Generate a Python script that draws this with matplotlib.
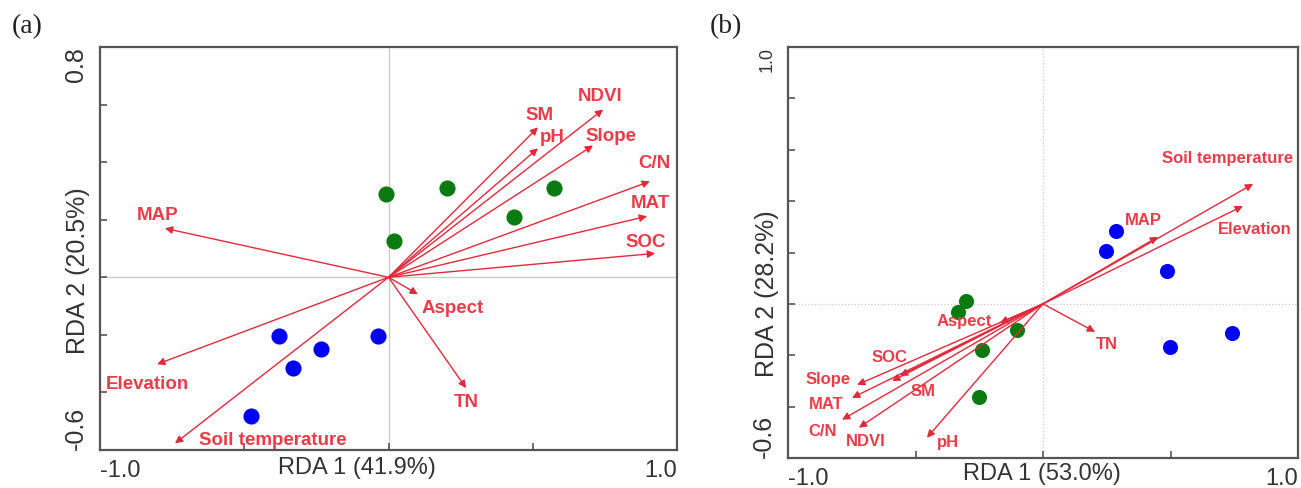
import matplotlib
matplotlib.use('Agg')
import matplotlib.pyplot as plt

plt.rcParams['font.family'] = ['Liberation Sans', 'DejaVu Sans']

# ---------------- Panel (a) data ----------------
a_vars = ['MAP', 'SM', 'pH', 'NDVI', 'Slope', 'C/N', 'MAT', 'SOC',
          'Aspect', 'TN', 'Elevation', 'Soil temperature']
a_arrow_x = [-0.775, 0.518, 0.518, 0.744, 0.709, 0.906, 0.896, 0.924,
             0.102, 0.269, -0.802, -0.740]
a_arrow_y = [0.170, 0.521, 0.448, 0.583, 0.458, 0.333, 0.212, 0.083,
             -0.059, -0.385, -0.302, -0.577]
a_label_x = [-0.802, 0.522, 0.567, 0.733, 0.771, 0.920, 0.906, 0.893,
             0.224, 0.269, -0.837, -0.400]
a_label_y = [0.215, 0.563, 0.486, 0.629, 0.490, 0.396, 0.257, 0.122,
             -0.108, -0.434, -0.372, -0.566]
a_green_x = [-0.009, 0.203, 0.574, 0.435, 0.019]
a_green_y = [0.288, 0.309, 0.309, 0.208, 0.125]
a_blue_x = [-0.380, -0.234, -0.331, -0.477, -0.036]
a_blue_y = [-0.205, -0.250, -0.316, -0.483, -0.205]
a_xlabel = 'RDA 1 (41.9%)'
a_ylabel = 'RDA 2 (20.5%)'
a_xticks = [-1.0, -0.5, 0.0, 0.5, 1.0]
a_xticklabels = ['-1.0', '', '', '', '1.0']
a_yticks = [-0.6, -0.4, -0.2, 0.0, 0.2, 0.4, 0.6, 0.8]
a_yticklabels = ['-0.6', '', '', '', '', '', '', '0.8']

# ---------------- Panel (b) data ----------------
b_vars = ['Soil temperature', 'Elevation', 'MAP', 'TN', 'Aspect', 'SOC',
          'SM', 'Slope', 'MAT', 'C/N', 'NDVI', 'pH']
b_arrow_x = [0.824, 0.784, 0.451, 0.204, -0.169, -0.561, -0.592, -0.729,
             -0.749, -0.788, -0.722, -0.455]
b_arrow_y = [0.467, 0.381, 0.261, -0.109, -0.074, -0.280, -0.300, -0.315,
             -0.366, -0.451, -0.482, -0.521]
b_label_x = [0.725, 0.831, 0.392, 0.251, -0.310, -0.604, -0.471, -0.843,
             -0.851, -0.863, -0.694, -0.373]
b_label_y = [0.564, 0.288, 0.323, -0.160, -0.070, -0.210, -0.343, -0.296,
             -0.393, -0.498, -0.537, -0.541]
b_green_x = [-0.302, -0.333, -0.102, -0.239, -0.251]
b_green_y = [0.012, -0.031, -0.101, -0.179, -0.362]
b_blue_x = [0.286, 0.247, 0.486, 0.498, 0.741]
b_blue_y = [0.284, 0.206, 0.128, -0.167, -0.113]
b_xlabel = 'RDA 1 (53.0%)'
b_ylabel = 'RDA 2 (28.2%)'
b_xticks = [-1.0, -0.5, 0.0, 0.5, 1.0]
b_xticklabels = ['-1.0', '', '', '', '1.0']
b_yticks = [-0.6, -0.4, -0.2, 0.0, 0.2, 0.4, 0.6, 0.8, 1.0]
b_yticklabels = ['-0.6', '', '', '', '', '', '', '', '1.0']

ARROW_RED = '#e3283a'
TEXT_RED = '#ea3c48'
GREEN = '#0b7a10'
BLUE = '#0000f5'
SPINE = '#555555'
TICKTXT = '#333333'

W, H = 1301, 488
fig = plt.figure(figsize=(W / 100, H / 100), dpi=100)


def make_panel(rect, xlim, ylim, xticks, xtl, yticks, ytl,
               vars_, ax_x, ax_y, lx, ly, gx, gy, bx, by,
               xlabel, xlabel_pos, ylabel, ylabel_pos, lab_fs, dot_s,
               zero_ls, top_ytick_fs):
    ax = fig.add_axes(rect)
    ax.set_xlim(*xlim)
    ax.set_ylim(*ylim)
    ax.axhline(0, color='#c8c8c8', lw=0.9, ls=zero_ls, zorder=1)
    ax.axvline(0, color='#c8c8c8', lw=0.9, ls=zero_ls, zorder=1)
    for sp in ax.spines.values():
        sp.set_color(SPINE)
        sp.set_linewidth(1.6)
    ax.set_xticks(xticks)
    ax.set_xticklabels(xtl, fontsize=17, color=TICKTXT)
    ax.set_yticks(yticks)
    ax.set_yticklabels(ytl, fontsize=18, color=TICKTXT, rotation=90,
                       va='center')
    ax.tick_params(axis='both', direction='in', length=5, width=1.2,
                   color=SPINE, top=False, right=False)
    ax.tick_params(axis='x', pad=7)
    ax.tick_params(axis='y', pad=9)
    xl = ax.get_xticklabels()
    xl[0].set_ha('left')
    xl[-1].set_ha('right')
    yl = ax.get_yticklabels()
    yl[0].set_va('bottom')
    yl[-1].set_va('top')
    yl[-1].set_fontsize(top_ytick_fs)

    ax.scatter(gx, gy, s=dot_s, color=GREEN, zorder=3, linewidths=0)
    ax.scatter(bx, by, s=dot_s, color=BLUE, zorder=3, linewidths=0)
    for name, x, y, tx, ty in zip(vars_, ax_x, ax_y, lx, ly):
        ax.annotate('', xy=(x, y), xytext=(0, 0),
                    arrowprops=dict(arrowstyle='-|>', color=ARROW_RED,
                                    lw=1.0, mutation_scale=11,
                                    shrinkA=0, shrinkB=0),
                    zorder=4)
        ax.text(tx, ty, name, color=TEXT_RED, fontsize=lab_fs,
                fontweight='bold', ha='center', va='center', zorder=5)
    ax.text(xlabel_pos[0], xlabel_pos[1], xlabel, transform=ax.transAxes,
            fontsize=17, color=TICKTXT, ha='center', va='center')
    ax.text(ylabel_pos[0], ylabel_pos[1], ylabel, transform=ax.transAxes,
            fontsize=18, color=TICKTXT, ha='center', va='center',
            rotation=90)
    return ax


# panel (a): axes pixels x 100..677, y 47..450
make_panel([100 / W, 1 - 450 / H, 577 / W, 403 / H], (-1.0, 1.0), (-0.6, 0.8),
           a_xticks, a_xticklabels, a_yticks, a_yticklabels,
           a_vars, a_arrow_x, a_arrow_y, a_label_x, a_label_y,
           a_green_x, a_green_y, a_blue_x, a_blue_y,
           a_xlabel, ((357 - 100) / 577, (450 - 468) / 403),
           a_ylabel, ((78 - 100) / 577, (450 - 271) / 403),
           13.5, 135, '-', 18)

# panel (b): axes pixels x 788..1298, y 47..458
make_panel([788 / W, 1 - 458 / H, 510 / W, 411 / H], (-1.0, 1.0), (-0.6, 1.0),
           b_xticks, b_xticklabels, b_yticks, b_yticklabels,
           b_vars, b_arrow_x, b_arrow_y, b_label_x, b_label_y,
           b_green_x, b_green_y, b_blue_x, b_blue_y,
           b_xlabel, ((1042 - 788) / 510, (458 - 474) / 411),
           b_ylabel, ((767 - 788) / 510, (458 - 294) / 411),
           12, 118, ':', 13)

fig.text(27 / W, 1 - 27 / H, '(a)', family='Liberation Serif', fontsize=20,
         ha='center', va='center', color='#222222')
fig.text(726 / W, 1 - 27 / H, '(b)', family='Liberation Serif', fontsize=20,
         ha='center', va='center', color='#222222')

fig.savefig('out.png', dpi=100)
